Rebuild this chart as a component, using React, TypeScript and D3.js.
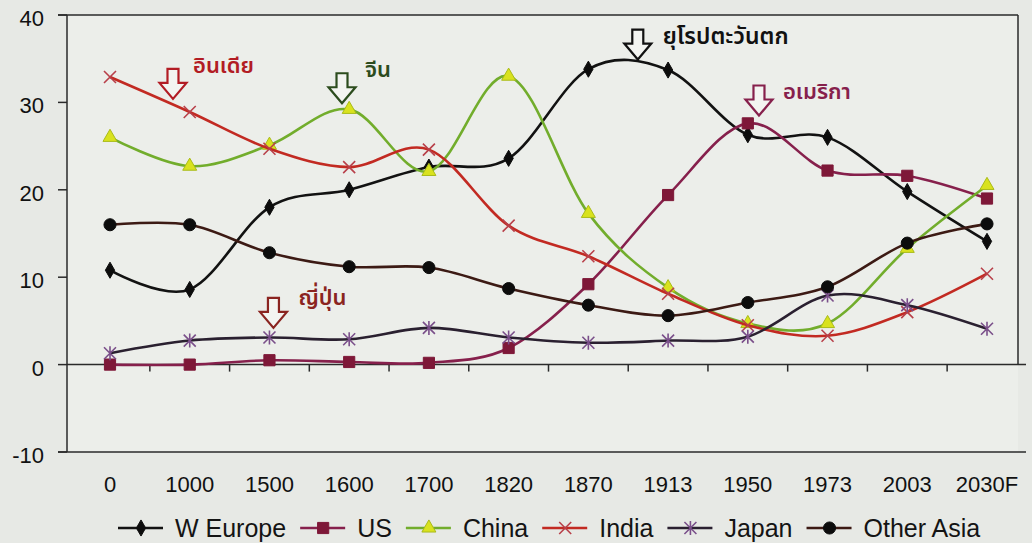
import React from "react";
import * as d3 from "d3";

const categories = ["0", "1000", "1500", "1600", "1700", "1820", "1870", "1913", "1950", "1973", "2003", "2030F"];
const wEurope = [10.8, 8.6, 18.0, 20.0, 22.6, 23.6, 33.8, 33.7, 26.3, 26.0, 19.8, 14.1];
const us = [0, 0, 0.5, 0.3, 0.2, 1.9, 9.2, 19.4, 27.6, 22.2, 21.6, 19.0];
const china = [26.0, 22.7, 25.1, 29.2, 22.1, 33.0, 17.3, 8.8, 4.7, 4.7, 13.3, 20.5];
const india = [32.9, 28.9, 24.7, 22.6, 24.6, 15.9, 12.4, 8.1, 4.5, 3.3, 6.0, 10.4];
const japan = [1.3, 2.75, 3.1, 2.9, 4.2, 3.1, 2.5, 2.75, 3.2, 7.9, 6.8, 4.1];
const otherAsia = [16.0, 16.0, 12.8, 11.2, 11.1, 8.7, 6.8, 5.6, 7.1, 8.9, 13.9, 16.1];
const yTicks = [-10, 0, 10, 20, 30, 40];

type Marker = "diamond" | "square" | "triangle" | "x" | "star" | "circle";

const series: { name: string; values: number[]; line: string; marker: Marker; mFill: string; mStroke: string }[] = [
  { name: "W Europe", values: wEurope, line: "#121212", marker: "diamond", mFill: "#0c0c0c", mStroke: "#0c0c0c" },
  { name: "US", values: us, line: "#86204c", marker: "square", mFill: "#7e1838", mStroke: "#7e1838" },
  { name: "China", values: china, line: "#72ad2c", marker: "triangle", mFill: "#d9e21e", mStroke: "#a9bb1a" },
  { name: "India", values: india, line: "#c22a22", marker: "x", mFill: "none", mStroke: "#b8404a" },
  { name: "Japan", values: japan, line: "#2a2030", marker: "star", mFill: "none", mStroke: "#7a4f8a" },
  { name: "Other Asia", values: otherAsia, line: "#3c1a14", marker: "circle", mFill: "#0c0c0c", mStroke: "#0c0c0c" },
];

const annotations = [
  { label: "อินเดีย", color: "#b21c24", cat: "0", off: 0.79, tip: 30.4, dx: 20, dy: -26, size: 22 },
  { label: "จีน", color: "#2c4c1e", cat: "1600", off: -0.09, tip: 29.9, dx: 23, dy: -26, size: 22 },
  { label: "ยุโรปตะวันตก", color: "#111111", cat: "1870", off: 0.62, tip: 34.9, dx: 25, dy: -16, size: 23 },
  { label: "อเมริกา", color: "#86204c", cat: "1950", off: 0.14, tip: 28.5, dx: 24, dy: -17, size: 22 },
  { label: "ญี่ปุ่น", color: "#8a2420", cat: "1500", off: 0.05, tip: 4.2, dx: 25, dy: -23, size: 22 },
];

const W = 1032;
const H = 543;
const frame = { left: 67, right: 1018, top: 15 };
const FONT = '"Liberation Sans", Arial, sans-serif';
const THAI = '"Noto Sans Thai", "Noto Sans Thai UI", "Noto Sans", "DejaVu Sans", sans-serif';

function markerPath(m: Marker): string {
  switch (m) {
    case "diamond":
      return d3.symbol(d3.symbolDiamond, 75)() as string;
    case "square":
      return d3.symbol(d3.symbolSquare, 125)() as string;
    case "triangle":
      return d3.symbol(d3.symbolTriangle, 85)() as string;
    case "circle":
      return d3.symbol(d3.symbolCircle, 115)() as string;
    case "x":
      return "M-6,-6L6,6M-6,6L6,-6";
    case "star":
      return "M-6,-6L6,6M-6,6L6,-6M0,-7L0,7";
  }
}

export default function App() {
  const x = d3.scalePoint<string>().domain(categories).range([110, 987]);
  const y = d3.scaleLinear().domain([-10, 40]).range([452, 15]);
  const step = x.step();
  const line = d3
    .line<number>()
    .x((_, i) => x(categories[i]) as number)
    .y((v) => y(v))
    .curve(d3.curveCatmullRom.alpha(0));

  const boundaries = categories.slice(1).map((c) => (x(c) as number) - step / 2);

  const legendFont = 25;
  const canvas = document.createElement("canvas");
  const ctx = canvas.getContext("2d")!;
  ctx.font = `${legendFont}px ${FONT}`;
  let lx = 118;
  const legendItems = series.map((s) => {
    const item = { s, x0: lx };
    lx += 45 + 12 + ctx.measureText(s.name).width + 14;
    return item;
  });

  const arrow = (cx: number, top: number) =>
    `M${cx - 5.5},${top}L${cx + 5.5},${top}L${cx + 5.5},${top + 14}L${cx + 13.5},${top + 14}L${cx},${top + 30}L${cx - 13.5},${top + 14}L${cx - 5.5},${top + 14}Z`;

  return (
    <svg
      width={W}
      height={H}
      style={{ position: "absolute", left: 0, top: 0, display: "block" }}
      xmlns="http://www.w3.org/2000/svg"
    >
      <rect x={0} y={0} width={W} height={H} fill="#e7e9e5" />
      <rect x={frame.left} y={frame.top} width={frame.right - frame.left} height={y(-10) - frame.top} fill="#eceeea" />

      <line x1={58} x2={frame.right} y1={y(40)} y2={y(40)} stroke="#2a2a2a" strokeWidth={1.5} />
      <line x1={frame.left} x2={frame.left} y1={y(40)} y2={y(-10)} stroke="#2a2a2a" strokeWidth={1.5} />
      <line x1={frame.right} x2={frame.right} y1={y(40)} y2={y(0)} stroke="#2a2a2a" strokeWidth={1.5} />
      <line x1={58} x2={1026} y1={y(-10)} y2={y(-10)} stroke="#2a2a2a" strokeWidth={1.5} />
      <line x1={frame.left} x2={1026} y1={y(0)} y2={y(0)} stroke="#2a2a2a" strokeWidth={1.5} />

      {yTicks.map((t) => (
        <g key={t}>
          <line x1={58} x2={frame.left} y1={y(t)} y2={y(t)} stroke="#2a2a2a" strokeWidth={1.5} />
          <text x={44} y={y(t) + 3} dy="0.36em" textAnchor="end" fontFamily={FONT} fontSize={22} fill="#111">
            {t}
          </text>
        </g>
      ))}

      {boundaries.map((b, i) => (
        <line key={i} x1={b} x2={b} y1={y(0)} y2={y(0) + 7} stroke="#2a2a2a" strokeWidth={1.5} />
      ))}
      {categories.map((c) => (
        <text key={c} x={x(c)} y={492} textAnchor="middle" fontFamily={FONT} fontSize={22} fill="#111">
          {c}
        </text>
      ))}

      {series.map((s) => (
        <g key={s.name}>
          <path d={line(s.values) as string} fill="none" stroke={s.line} strokeWidth={2.6} />
          {s.values.map((v, i) => (
            <path
              key={i}
              d={markerPath(s.marker)}
              transform={`translate(${x(categories[i])},${y(v)})`}
              fill={s.mFill}
              stroke={s.mStroke}
              strokeWidth={s.marker === "x" || s.marker === "star" ? 1.6 : 1}
            />
          ))}
        </g>
      ))}

      {annotations.map((a) => {
        const cx = (x(a.cat) as number) + a.off * step;
        const tipY = y(a.tip);
        const top = tipY - 30;
        return (
          <g key={a.label}>
            <path d={arrow(cx, top)} fill="#f3f4f1" stroke={a.color} strokeWidth={2.2} strokeLinejoin="miter" />
            <text x={cx + a.dx} y={tipY + a.dy} fontFamily={THAI} fontSize={a.size} fontWeight={600} fill={a.color}>
              {a.label}
            </text>
          </g>
        );
      })}

      {legendItems.map(({ s, x0 }) => (
        <g key={s.name}>
          <line x1={x0} x2={x0 + 45} y1={528} y2={528} stroke={s.line} strokeWidth={2.6} />
          <path
            d={markerPath(s.marker)}
            transform={`translate(${x0 + 23},528)`}
            fill={s.mFill}
            stroke={s.mStroke}
            strokeWidth={s.marker === "x" || s.marker === "star" ? 1.6 : 1}
          />
          <text x={x0 + 57} y={537} fontFamily={FONT} fontSize={legendFont} fill="#141414">
            {s.name}
          </text>
        </g>
      ))}
    </svg>
  );
}
